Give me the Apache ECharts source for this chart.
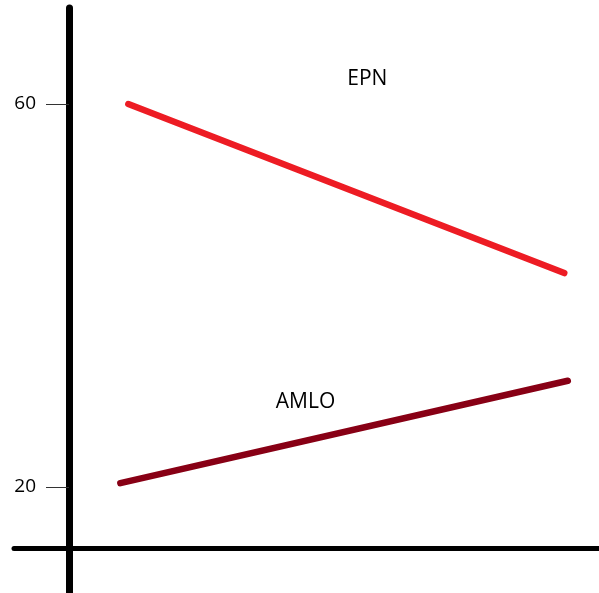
<!DOCTYPE html>
<html>
<head>
<meta charset="utf-8">
<script src="https://cdn.jsdelivr.net/npm/echarts@6/dist/echarts.min.js"></script>
<style>
  html, body { margin: 0; padding: 0; background: #fff; }
  #chart { width: 599px; height: 593px; }
</style>
</head>
<body>
<div id="chart"></div>
<script>
// start/end of each hand drawn line (x has no labels)
const epnPeriods = [0.012, 0.995];
const epnValues = [60, 42.35];
const amloPeriods = [-0.006, 1.003];
const amloValues = [20.4, 31.1];
const yTickValues = [20, 60];

const chart = echarts.init(document.getElementById("chart"));

const toPoints = (xs, vals) => vals.map((v, i) => [xs[i], v]);

const option = {
  animation: false,
  backgroundColor: "#fff",
  grid: { left: 14, right: 0, top: 8, bottom: 0 },
  xAxis: {
    type: "value",
    min: -0.2458,
    max: 1.0733,
    offset: -45, // pull the axis up into the plot
    axisLine: { show: true, onZero: false, lineStyle: { color: "#000", width: 5, cap: "round" } },
    axisTick: { show: false },
    axisLabel: { show: false },
    splitLine: { show: false },
  },
  yAxis: {
    type: "value",
    min: 8.93,
    max: 70.03,
    offset: -55,
    axisLine: { show: true, onZero: false, lineStyle: { color: "#000", width: 7 } },
    axisTick: {
      show: true,
      length: 23,
      customValues: yTickValues,
      lineStyle: { color: "#333", width: 1 },
    },
    axisLabel: {
      show: true,
      customValues: yTickValues,
      margin: 33,
      color: "#000",
      fontSize: 19,
      fontFamily: "Open Sans",
    },
    splitLine: { show: false },
  },
  series: [
    {
      name: "EPN",
      type: "line",
      data: toPoints(epnPeriods, epnValues),
      symbol: "none",
      lineStyle: { color: "#ed1c24", width: 6.5, cap: "round" },
      markPoint: {
        symbol: "circle",
        symbolSize: 0,
        data: [{ coord: [0.551, 62.6] }],
        label: {
          show: true,
          position: "inside",
          formatter: "EPN",
          color: "#000",
          fontSize: 21,
          fontFamily: "Open Sans",
        },
      },
    },
    {
      name: "AMLO",
      type: "line",
      data: toPoints(amloPeriods, amloValues),
      symbol: "none",
      lineStyle: { color: "#880015", width: 6.5, cap: "round" },
      markPoint: {
        symbol: "circle",
        symbolSize: 0,
        data: [{ coord: [0.4115, 28.88] }],
        label: {
          show: true,
          position: "inside",
          formatter: "AMLO",
          color: "#000",
          fontSize: 21,
          fontFamily: "Open Sans",
        },
      },
    },
  ],
};

chart.setOption(option);
</script>
</body>
</html>
